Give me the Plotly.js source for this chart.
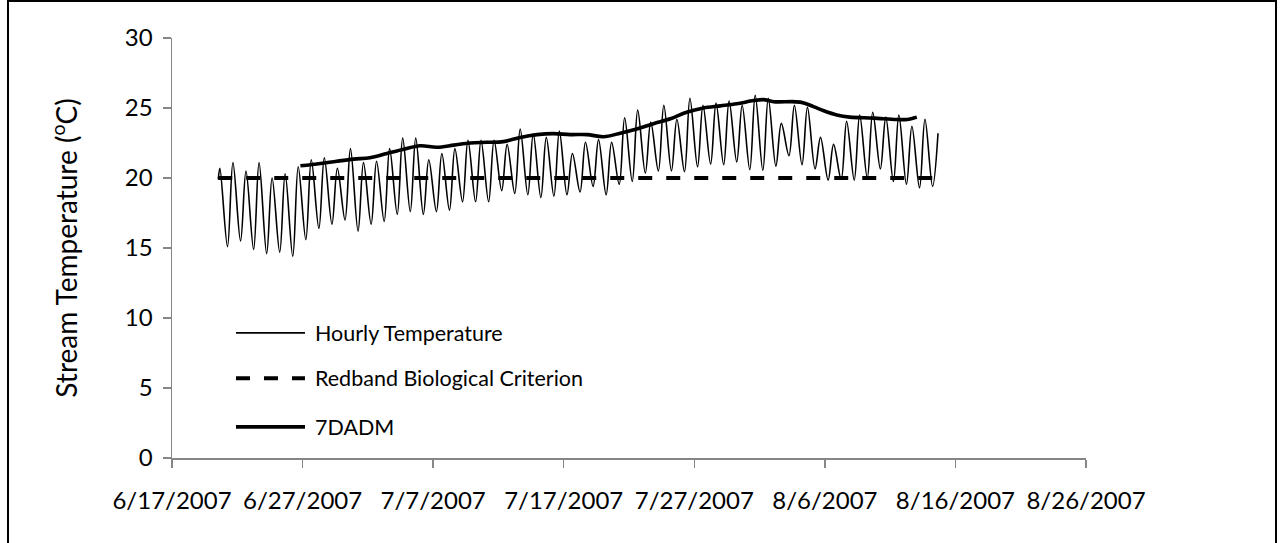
<!DOCTYPE html>
<html><head><meta charset="utf-8">
<script src="https://cdn.plot.ly/plotly-3.0.1.min.js"></script>
<style>
html,body{margin:0;padding:0;background:#fff;overflow:hidden}
#chart{width:1283px;height:543px}
#frame{position:absolute;left:7px;top:0px;width:1270px;height:620px;border:2px solid #000;box-sizing:border-box;pointer-events:none}
</style></head><body>
<div id="chart"></div><div id="frame"></div>
<script>
// ---- data ----
const firstTimes = ['2007-06-20 13:00', '2007-06-20 16:00'];
const firstTemps = [19.9, 20.7];
const days = [
 '2007-06-21','2007-06-22','2007-06-23','2007-06-24','2007-06-25','2007-06-26','2007-06-27','2007-06-28','2007-06-29','2007-06-30',
 '2007-07-01','2007-07-02','2007-07-03','2007-07-04','2007-07-05','2007-07-06','2007-07-07','2007-07-08','2007-07-09','2007-07-10',
 '2007-07-11','2007-07-12','2007-07-13','2007-07-14','2007-07-15','2007-07-16','2007-07-17','2007-07-18','2007-07-19','2007-07-20',
 '2007-07-21','2007-07-22','2007-07-23','2007-07-24','2007-07-25','2007-07-26','2007-07-27','2007-07-28','2007-07-29','2007-07-30','2007-07-31',
 '2007-08-01','2007-08-02','2007-08-03','2007-08-04','2007-08-05','2007-08-06','2007-08-07','2007-08-08','2007-08-09','2007-08-10',
 '2007-08-11','2007-08-12','2007-08-13','2007-08-14'];
const dailyMin = [
 15.1,15.5,14.9,14.6,14.7,14.4,15.6,16.4,16.7,17.0,
 16.2,16.7,16.9,17.4,17.6,17.4,17.6,17.7,18.3,18.3,
 18.3,19.1,18.9,18.8,18.6,18.7,18.8,19.0,19.4,18.8,
 19.55,19.75,20.35,20.5,20.5,20.45,20.8,21.0,20.95,21.15,20.6,
 20.55,20.85,21.6,20.95,20.65,19.85,19.9,19.85,20.0,20.65,
 19.75,19.55,19.3,19.4];
const dailyMax = [
 21.1,20.5,21.1,20.0,20.3,20.8,21.3,21.45,20.7,22.1,
 21.1,21.2,22.1,22.85,22.85,21.3,21.75,22.1,22.7,22.7,
 22.7,22.4,23.5,23.15,22.9,23.35,21.75,22.55,22.75,22.55,
 24.3,24.85,24.0,25.2,24.2,25.7,25.2,25.35,25.5,25.2,25.9,
 25.7,23.9,25.2,25.05,22.9,22.4,24.05,24.5,24.7,24.35,
 24.5,23.7,24.2,23.2];
const minHour = '06:00', maxHour = '16:00';

const criterionTimes = ['2007-06-20 13:00', '2007-08-14 16:00'];
const criterionTemps = [20, 20];

const dadmTimes = [
 '2007-06-26 20:00','2007-06-28 09:00','2007-06-29 15:00','2007-06-30 22:00','2007-07-02 04:00','2007-07-03 11:00',
 '2007-07-04 18:00','2007-07-06 00:00','2007-07-07 07:00','2007-07-08 14:00','2007-07-09 20:00','2007-07-11 03:00',
 '2007-07-12 09:00','2007-07-13 16:00','2007-07-14 23:00','2007-07-16 05:00','2007-07-17 12:00','2007-07-18 19:00',
 '2007-07-20 01:00','2007-07-21 08:00','2007-07-22 14:00','2007-07-23 21:00','2007-07-25 04:00','2007-07-26 10:00',
 '2007-07-27 17:00','2007-07-29 00:00','2007-07-30 06:00','2007-07-31 13:00','2007-08-01 07:00','2007-08-02 02:00',
 '2007-08-04 03:00','2007-08-05 03:00','2007-08-05 22:00','2007-08-06 22:00','2007-08-07 22:00','2007-08-09 17:00',
 '2007-08-11 12:00','2007-08-12 07:00','2007-08-13 01:00'];
const dadmTemps = [
 20.87,21.04,21.2,21.35,21.45,21.75,
 22.05,22.3,22.2,22.35,22.5,22.55,
 22.6,22.9,23.1,23.17,23.1,23.1,
 22.95,23.2,23.5,23.88,24.23,24.7,
 25.0,25.15,25.3,25.53,25.6,25.45,
 25.42,25.1,24.8,24.5,24.35,24.28,
 24.18,24.18,24.35];

const seriesNames = ['Hourly Temperature', 'Redband Biological Criterion', '7DADM'];
const xTickStart = '2007-06-17', xRange = ['2007-06-17', '2007-08-26'];
const yRange = [0, 30];

// ---- build hourly series (daily lows and highs in time order) ----
const hourlyX = firstTimes.slice(), hourlyY = firstTemps.slice();
days.forEach((d, i) => {
  hourlyX.push(d + ' ' + minHour); hourlyY.push(dailyMin[i]);
  hourlyX.push(d + ' ' + maxHour); hourlyY.push(dailyMax[i]);
});

const FONT = 'Lato, "Open Sans", sans-serif';
const DASH = '14px,14px';

const traces = [
  {x: hourlyX, y: hourlyY, type: 'scatter', mode: 'lines', name: seriesNames[0],
   line: {color: '#000', width: 1.6, shape: 'spline', smoothing: 1}},
  {x: criterionTimes, y: criterionTemps, type: 'scatter', mode: 'lines', name: seriesNames[1],
   line: {color: '#000', width: 4, dash: DASH}},
  {x: dadmTimes, y: dadmTemps, type: 'scatter', mode: 'lines', name: seriesNames[2],
   line: {color: '#000', width: 3.6, shape: 'spline', smoothing: 1}}
];

// manual legend (long line samples like the original)
const legY = [0.298, 0.19, 0.074];
const legX0 = 0.070, legX1 = 0.1455, legTX = 0.1545;
const legStyles = [
  {width: 1.6, dash: 'solid'}, {width: 4, dash: DASH}, {width: 3.6, dash: 'solid'}
];
const shapes = legY.map((y, i) => ({type: 'line', xref: 'paper', yref: 'paper',
  x0: legX0, x1: legX1, y0: y, y1: y, line: {color: '#000', width: legStyles[i].width, dash: legStyles[i].dash}}));
const annotations = legY.map((y, i) => ({xref: 'paper', yref: 'paper', x: legTX, y: y,
  xanchor: 'left', yanchor: 'middle', text: seriesNames[i], showarrow: false,
  font: {family: FONT, size: 21.5, color: '#000'}}));

const layout = {
  width: 1283, height: 543,
  margin: {l: 172, r: 197, t: 38, b: 85},
  paper_bgcolor: '#fff', plot_bgcolor: '#fff',
  showlegend: false,
  font: {family: FONT, color: '#000'},
  xaxis: {
    type: 'date', range: xRange, tick0: xTickStart, dtick: 10 * 86400000,
    tickformat: '%-m/%-d/%Y', ticks: 'outside', ticklen: 8, tickwidth: 1.5, tickcolor: '#868686',
    showline: true, linecolor: '#868686', linewidth: 1.5, showgrid: false, zeroline: false,
    tickfont: {family: FONT, size: 24, color: '#000'}, ticklabelstandoff: 13
  },
  yaxis: {
    range: yRange, dtick: 5, ticks: 'outside', ticklen: 8, tickwidth: 1.5, tickcolor: '#868686',
    showline: true, linecolor: '#868686', linewidth: 1.5, showgrid: false, zeroline: false,
    tickfont: {family: FONT, size: 24, color: '#000'}, ticklabelstandoff: 5,
    title: {text: 'Stream Temperature (<sup>o</sup>C)', font: {family: FONT, size: 28, color: '#000'}, standoff: 39}
  },
  shapes: shapes,
  annotations: annotations
};

Plotly.newPlot('chart', traces, layout, {displayModeBar: false, staticPlot: true});
</script>
</body></html>
